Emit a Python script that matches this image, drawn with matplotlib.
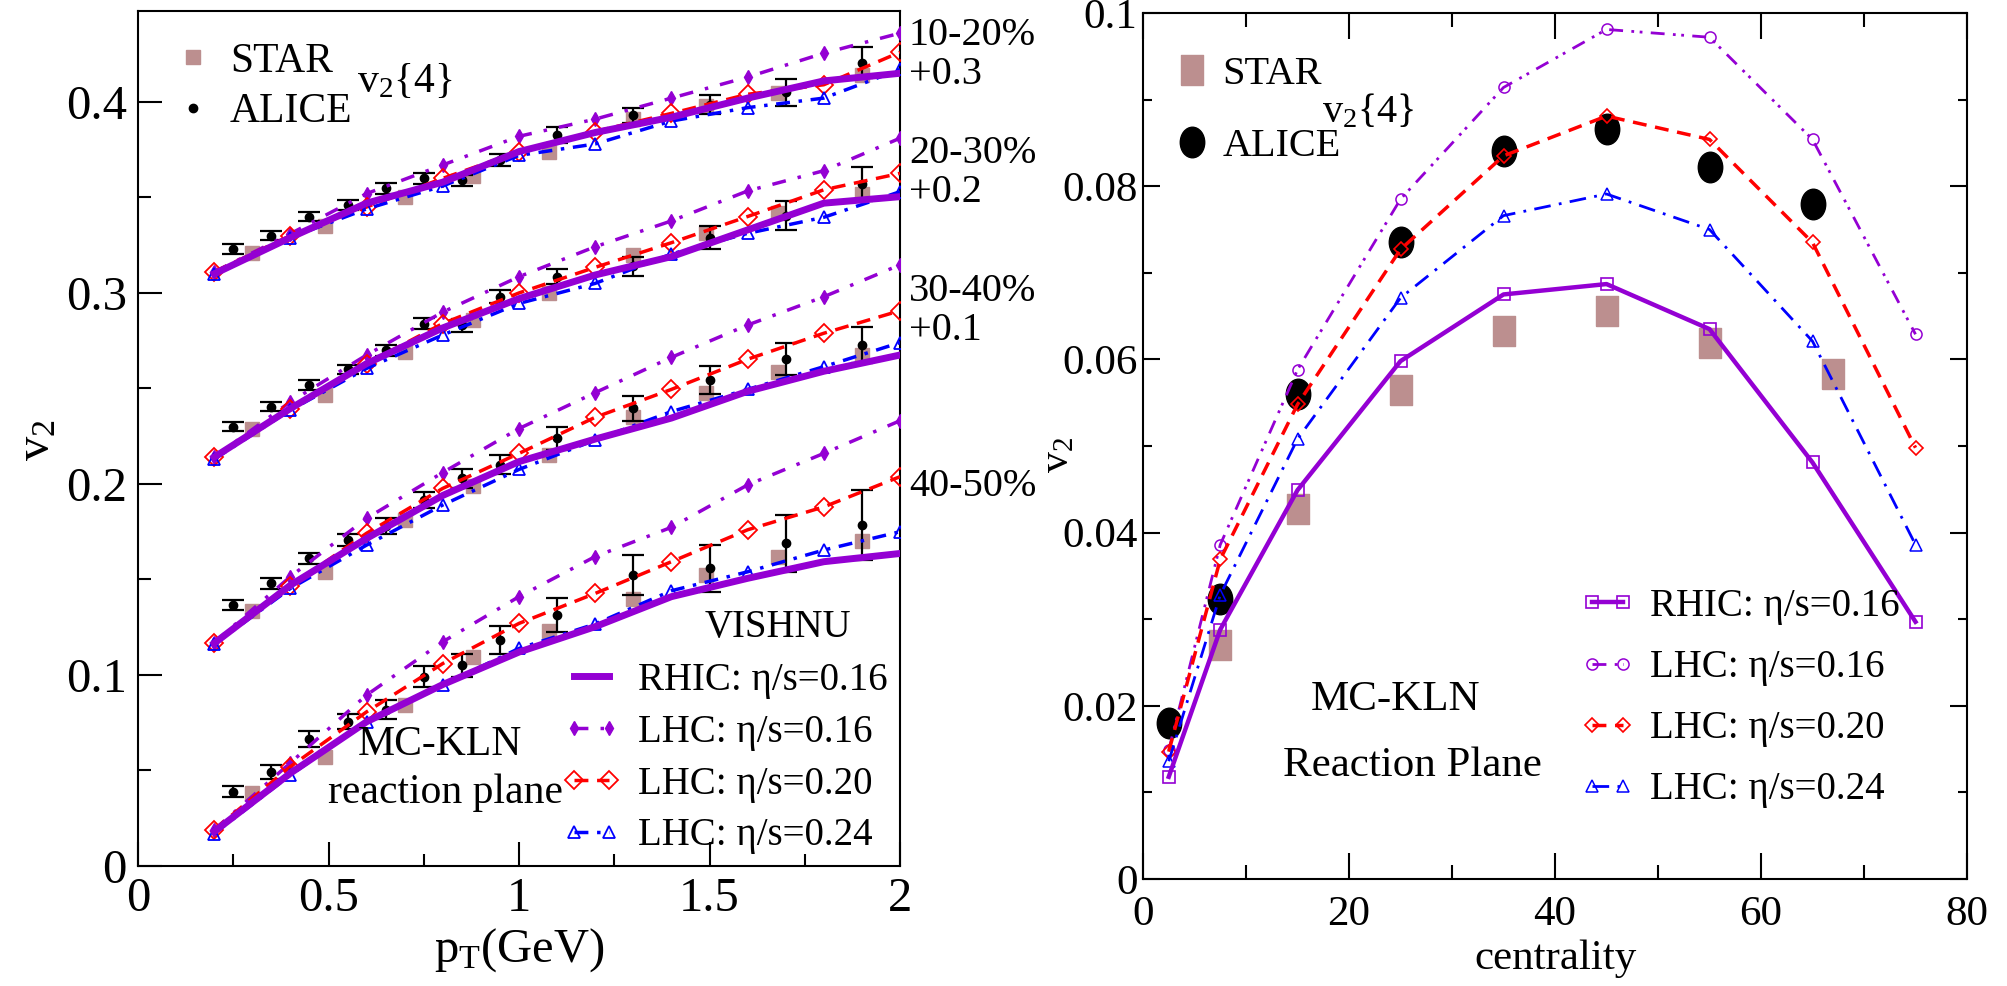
import numpy as np
import matplotlib
matplotlib.use('Agg')
import matplotlib.pyplot as plt
from matplotlib.path import Path
from matplotlib.ticker import MultipleLocator

plt.rcParams['font.family'] = ['Liberation Serif', 'DejaVu Serif']
plt.rcParams['mathtext.fontset'] = 'custom'
plt.rcParams['mathtext.rm'] = 'Liberation Serif'
plt.rcParams['mathtext.it'] = 'Liberation Serif:italic'

# ---------------- left panel: v2{4}(pT), 4 centrality bins (shifted) ----------------
pt_model = [0.2, 0.4, 0.6, 0.8, 1.0, 1.2, 1.4, 1.6, 1.8, 2.0]

rhic_1020 = [0.310, 0.329, 0.347, 0.358, 0.374, 0.384, 0.392, 0.402, 0.411, 0.415]
lhc16_1020 = [0.311, 0.331, 0.352, 0.367, 0.382, 0.391, 0.402, 0.413, 0.4255, 0.436]
lhc20_1020 = [0.311, 0.330, 0.345, 0.360, 0.374, 0.3845, 0.394, 0.404, 0.409, 0.426]
lhc24_1020 = [0.310, 0.329, 0.344, 0.356, 0.372, 0.378, 0.390, 0.397, 0.402, 0.417]

rhic_2030 = [0.214, 0.2395, 0.263, 0.2817, 0.297, 0.3094, 0.319, 0.333, 0.347, 0.3504]
lhc16_2030 = [0.214, 0.243, 0.2675, 0.290, 0.3085, 0.3242, 0.3377, 0.3534, 0.364, 0.381]
lhc20_2030 = [0.214, 0.239, 0.263, 0.284, 0.300, 0.3134, 0.3263, 0.340, 0.354, 0.3626]
lhc24_2030 = [0.213, 0.2387, 0.2605, 0.278, 0.2945, 0.305, 0.3204, 0.3312, 0.3396, 0.353]

rhic_3040 = [0.1166, 0.147, 0.1715, 0.194, 0.2117, 0.2235, 0.2345, 0.2485, 0.259, 0.2675]
lhc16_3040 = [0.117, 0.1515, 0.182, 0.206, 0.229, 0.2478, 0.2663, 0.2832, 0.298, 0.3147]
lhc20_3040 = [0.117, 0.1465, 0.1742, 0.1977, 0.216, 0.2349, 0.2495, 0.2653, 0.2789, 0.2907]
lhc24_3040 = [0.116, 0.1453, 0.168, 0.189, 0.2076, 0.223, 0.2379, 0.2495, 0.2614, 0.274]

rhic_4050 = [0.018, 0.0486, 0.0755, 0.095, 0.112, 0.1253, 0.141, 0.1506, 0.1593, 0.1636]
lhc16_4050 = [0.019, 0.054, 0.0895, 0.1174, 0.141, 0.162, 0.1773, 0.1995, 0.216, 0.2331]
lhc20_4050 = [0.019, 0.052, 0.0807, 0.106, 0.127, 0.1427, 0.1593, 0.176, 0.188, 0.2038]
lhc24_4050 = [0.017, 0.0476, 0.0755, 0.0948, 0.1139, 0.1267, 0.1441, 0.154, 0.1654, 0.175]

pt_alice = [0.25, 0.35, 0.45, 0.55, 0.65, 0.75, 0.85, 0.95, 1.1, 1.3, 1.5, 1.7, 1.9]
alice_1020 = [0.323, 0.330, 0.340, 0.346, 0.3547, 0.360, 0.359, 0.3696, 0.3827, 0.393, 0.3985, 0.405, 0.4205]
alice_2030 = [0.230, 0.2405, 0.2518, 0.260, 0.270, 0.284, 0.283, 0.298, 0.3085, 0.314, 0.329, 0.3404, 0.357]
alice_3040 = [0.1366, 0.148, 0.161, 0.1707, 0.178, 0.1916, 0.203, 0.210, 0.2239, 0.2396, 0.2545, 0.2653, 0.2728]
alice_4050 = [0.0389, 0.0493, 0.0665, 0.0755, 0.0817, 0.099, 0.105, 0.1183, 0.1314, 0.1524, 0.1558, 0.169, 0.1785]
err_1020 = [0.0025, 0.0025, 0.0025, 0.0025, 0.003, 0.003, 0.003, 0.003, 0.004, 0.004, 0.005, 0.007, 0.008]
err_2030 = [0.0025, 0.0025, 0.0025, 0.0025, 0.003, 0.003, 0.0035, 0.0035, 0.004, 0.005, 0.006, 0.0075, 0.009]
err_3040 = [0.0028, 0.003, 0.003, 0.003, 0.004, 0.004, 0.005, 0.005, 0.006, 0.0065, 0.0075, 0.0085, 0.0095]
err_4050 = [0.003, 0.0035, 0.004, 0.004, 0.005, 0.0055, 0.006, 0.0075, 0.009, 0.0105, 0.0125, 0.015, 0.0185]

pt_star = [0.3, 0.49, 0.7, 0.88, 1.08, 1.3, 1.49, 1.68, 1.9]
star_1020 = [0.321, 0.335, 0.350, 0.361, 0.374, 0.391, 0.398, 0.4045, 0.414]
star_2030 = [0.229, 0.2466, 0.269, 0.2859, 0.2998, 0.320, 0.3316, 0.3417, 0.352]
star_3040 = [0.1337, 0.154, 0.181, 0.199, 0.2152, 0.2349, 0.2478, 0.2588, 0.2675]
star_4050 = [0.038, 0.0572, 0.0843, 0.1096, 0.1232, 0.140, 0.1524, 0.162, 0.170]

bin_labels = ['10-20%\n+0.3', '20-30%\n+0.2', '30-40%\n+0.1', '40-50%']
model_labels = ['RHIC: η/s=0.16', 'LHC: η/s=0.16', 'LHC: η/s=0.20', 'LHC: η/s=0.24']

# ---------------- right panel: integrated v2{4} vs centrality ----------------
cent = [2.5, 7.5, 15, 25, 35, 45, 55, 65, 75]
rhic_c = [0.0118, 0.0288, 0.0449, 0.0598, 0.0675, 0.0687, 0.0635, 0.0481, 0.0297]
lhc16_c = [0.0149, 0.0386, 0.0588, 0.0785, 0.0914, 0.0981, 0.0972, 0.0854, 0.0629]
lhc20_c = [0.0147, 0.0369, 0.0548, 0.0727, 0.0835, 0.0881, 0.0854, 0.0735, 0.0498]
lhc24_c = [0.0136, 0.0328, 0.0508, 0.0671, 0.0766, 0.0791, 0.0750, 0.0621, 0.0386]
cent_alice = [2.5, 7.5, 15, 25, 35, 45, 55, 65]
alice_c = [0.0180, 0.0323, 0.0560, 0.0735, 0.0841, 0.0866, 0.0822, 0.0779]
cent_star = [7.5, 15, 25, 35, 45, 55, 67]
star_c = [0.0270, 0.0427, 0.0565, 0.0633, 0.0656, 0.0619, 0.0583]

PURPLE = '#9400d3'
RED = '#ff0000'
BLUE = '#0000ff'
STARC = '#bc8f8f'

W, H = 2007, 986
fig = plt.figure(figsize=(W / 100, H / 100), dpi=100)

def fx(px):
    return px / W

def fy(py):
    return 1 - py / H

# tall markers (the original is squeezed horizontally)
circ = Path.unit_circle()
ellipse = Path(circ.vertices * np.array([0.8, 1.0]), circ.codes)
tall_rect = [(-0.35, -0.5), (0.35, -0.5), (0.35, 0.5), (-0.35, 0.5), (-0.35, -0.5)]

# ===================== left panel =====================
ax1 = fig.add_axes([fx(138), fy(866), fx(900) - fx(138), fy(11) - fy(866)])

bins = [
    (rhic_1020, lhc16_1020, lhc20_1020, lhc24_1020, alice_1020, err_1020, star_1020),
    (rhic_2030, lhc16_2030, lhc20_2030, lhc24_2030, alice_2030, err_2030, star_2030),
    (rhic_3040, lhc16_3040, lhc20_3040, lhc24_3040, alice_3040, err_3040, star_3040),
    (rhic_4050, lhc16_4050, lhc20_4050, lhc24_4050, alice_4050, err_4050, star_4050),
]

for i, (rh, l16, l20, l24, al, er, st) in enumerate(bins):
    s, = ax1.plot(pt_star, st, ls='none', marker='s', ms=10, color=STARC, zorder=2)
    a = ax1.errorbar(pt_alice, al, yerr=er, fmt='o', ms=6, color='black', ecolor='black',
                     elinewidth=1.6, capsize=8, capthick=1.6, zorder=3)
    l1, = ax1.plot(pt_model, rh, color=PURPLE, lw=5, zorder=5)
    l2, = ax1.plot(pt_model, l16, color=PURPLE, lw=2.5, ls=(0, (4, 3.5, 1, 3.5)),
                   marker='d', ms=7, mfc=PURPLE, mec=PURPLE, zorder=4)
    l3, = ax1.plot(pt_model, l20, color=RED, lw=2.5, ls=(0, (4, 2.5)),
                   marker='D', ms=9, mfc='none', mec=RED, mew=1.3, zorder=4)
    l4, = ax1.plot(pt_model, l24, color=BLUE, lw=2.5, ls=(0, (4, 2.5, 1, 2.5)),
                   marker='^', ms=9, mfc='none', mec=BLUE, mew=1.3, zorder=4)
    if i == 0:
        left_handles = [l1, l2, l3, l4]
        star_h, alice_h = s, a.lines[0]

ax1.set_xlim(0, 2)
ax1.set_ylim(0, 0.4476)
ax1.set_xticks([0, 0.5, 1, 1.5, 2])
ax1.set_xticklabels(['0', '0.5', '1', '1.5', '2'])
ax1.set_yticks([0, 0.1, 0.2, 0.3, 0.4])
ax1.set_yticklabels(['0', '0.1', '0.2', '0.3', '0.4'])
ax1.xaxis.set_minor_locator(MultipleLocator(0.25))
ax1.yaxis.set_minor_locator(MultipleLocator(0.05))
ax1.tick_params(which='major', direction='in', length=17, width=1.5, labelsize=35, pad=8)
ax1.tick_params(which='minor', direction='in', length=9, width=1.5)
ax1.tick_params(top=False, right=False, which='both')
for sp in ax1.spines.values():
    sp.set_linewidth(1.5)

ax1.set_xlabel(r'p$_\mathrm{T}$(GeV)', fontsize=35, labelpad=4)
fig.text(fx(37), fy(440), r'v$_2$', fontsize=35, rotation=90, ha='center', va='center')

# centrality labels at the right edge
lab_y = [55, 173, 311, 487]
for lab, yy in zip(bin_labels, lab_y):
    fig.text(fx(909), fy(yy), lab, fontsize=29, ha='left', va='center', linespacing=1.1)

leg_a = ax1.legend([star_h, alice_h], ['STAR', 'ALICE'], loc='upper left',
                   bbox_to_anchor=(fx(180), fy(42)), bbox_transform=fig.transFigure,
                   frameon=False, fontsize=30, numpoints=1, handlelength=0.6,
                   handletextpad=0.6, labelspacing=0.3, borderpad=0, borderaxespad=0)
ax1.add_artist(leg_a)
fig.text(fx(357), fy(82), r'v$_2${4}', fontsize=30, ha='left', va='center')

ax1.legend(left_handles, model_labels,
           loc='upper left', bbox_to_anchor=(fx(562), fy(662)), bbox_transform=fig.transFigure,
           frameon=False, fontsize=28, numpoints=2, handlelength=1.5, handletextpad=0.45,
           labelspacing=0.38, borderpad=0, borderaxespad=0)
fig.text(fx(778), fy(627), 'VISHNU', fontsize=28, ha='center', va='center')
fig.text(fx(440), fy(745), 'MC-KLN', fontsize=30, ha='center', va='center')
fig.text(fx(445), fy(793), 'reaction plane', fontsize=30, ha='center', va='center')

# ===================== right panel =====================
ax2 = fig.add_axes([fx(1143), fy(879), fx(1967) - fx(1143), fy(13) - fy(879)])

s2, = ax2.plot(cent_star, star_c, ls='none', marker=tall_rect, ms=22, color=STARC, zorder=2)
a2, = ax2.plot(cent_alice, alice_c, ls='none', marker=ellipse, ms=22, color='black', zorder=3)
r1, = ax2.plot(cent, rhic_c, color=PURPLE, lw=3.2, marker='s', ms=8, mfc='none', mec=PURPLE,
               mew=1.2, zorder=5)
r2, = ax2.plot(cent, lhc16_c, color=PURPLE, lw=2, ls=(0, (5, 3, 1, 2, 1, 3)), marker='o', ms=8,
               mfc='none', mec=PURPLE, mew=1.1, zorder=4)
r3, = ax2.plot(cent, lhc20_c, color=RED, lw=2.5, ls=(0, (4, 2.5)), marker='D', ms=7,
               mfc='none', mec=RED, mew=1.2, zorder=4)
r4, = ax2.plot(cent, lhc24_c, color=BLUE, lw=2, ls=(0, (6, 3, 1, 3)), marker='^', ms=8,
               mfc='none', mec=BLUE, mew=1.1, zorder=4)

ax2.set_xlim(0, 80)
ax2.set_ylim(0, 0.1)
ax2.set_xticks([0, 20, 40, 60, 80])
ax2.set_xticklabels(['0', '20', '40', '60', '80'])
ax2.set_yticks([0, 0.02, 0.04, 0.06, 0.08, 0.1])
ax2.set_yticklabels(['0', '0.02', '0.04', '0.06', '0.08', '0.1'])
ax2.xaxis.set_minor_locator(MultipleLocator(10))
ax2.yaxis.set_minor_locator(MultipleLocator(0.01))
ax2.tick_params(axis='x', which='major', length=19, width=1.5)
ax2.tick_params(axis='x', which='minor', length=10, width=1.5)
ax2.tick_params(axis='y', which='major', length=12, width=1.5)
ax2.tick_params(axis='y', which='minor', length=6.5, width=1.5)
ax2.tick_params(which='both', direction='in', top=True, right=True, labelsize=31)
ax2.tick_params(axis='x', pad=12)
ax2.tick_params(axis='y', pad=4)
for sp in ax2.spines.values():
    sp.set_linewidth(1.5)

ax2.set_xlabel('centrality', fontsize=31, labelpad=4)
fig.text(fx(1058), fy(455), r'v$_2$', fontsize=30, rotation=90, ha='center', va='center')

leg_b = ax2.legend([s2, a2], ['STAR', 'ALICE'], loc='upper left',
                   bbox_to_anchor=(fx(1182), fy(56)), bbox_transform=fig.transFigure,
                   frameon=False, fontsize=29, numpoints=1, handlelength=0.5,
                   handletextpad=0.5, labelspacing=0.85, borderpad=0, borderaxespad=0)
ax2.add_artist(leg_b)
fig.text(fx(1322), fy(112), r'v$_2${4}', fontsize=29, ha='left', va='center')

ax2.legend([r1, r2, r3, r4], model_labels,
           loc='upper left', bbox_to_anchor=(fx(1580), fy(588)), bbox_transform=fig.transFigure,
           frameon=False, fontsize=28, numpoints=2, handlelength=1.4, handletextpad=0.4,
           labelspacing=0.62, borderpad=0, borderaxespad=0)
fig.text(fx(1396), fy(700), 'MC-KLN', fontsize=31, ha='center', va='center')
fig.text(fx(1412), fy(766), 'Reaction Plane', fontsize=31, ha='center', va='center')

fig.savefig('out.png', dpi=100)
